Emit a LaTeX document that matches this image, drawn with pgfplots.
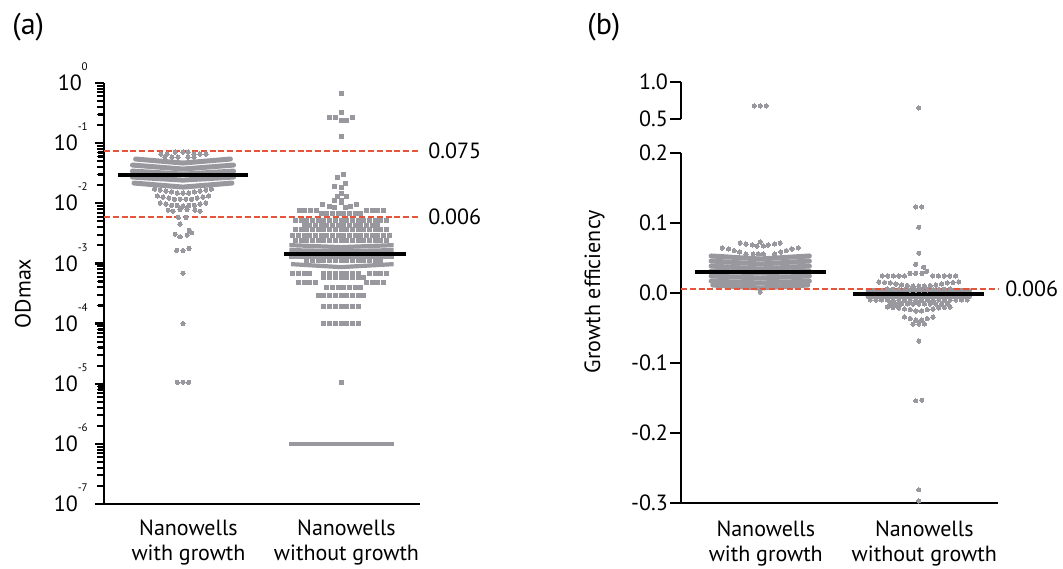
\documentclass[border=0pt]{standalone}
\usepackage{fontspec}
\setmainfont{PT Sans}
\usepackage{pgfplots}
\pgfplotsset{compat=1.18}
\definecolor{dotgray}{RGB}{152,152,158}
\definecolor{refred}{RGB}{232,84,58}
\newcommand{\ex}[1]{10\smash{\raisebox{10pt}{\fontsize{5.5}{5.5}\selectfont #1}}}
\pgfplotsset{
  swarm/.style={
    scale only axis, xmin=-0.5, xmax=1.5, clip=false,
    axis x line*=bottom, axis y line*=left,
    axis line style={line width=1pt},
    xtick={0,1}, xtick style={draw=none},
    ytick style={draw=black, line width=1pt},
    xticklabels={{Nanowells\\with growth},{Nanowells\\without growth}},
    xticklabel style={align=center, xshift=2.75pt,
      font=\fontsize{11}{12.5}\selectfont},
    tick label style={font=\fontsize{11}{12.5}\selectfont},
    label style={font=\fontsize{11}{12.5}\selectfont},
    tick align=outside,
  },
  dots/.style={only marks, mark=*, mark size=1.05pt, color=dotgray,
    mark options={line width=0pt}},
  sq/.style={only marks, mark=square*, mark size=1pt, color=dotgray,
    mark options={line width=0pt}},
  band/.style={no marks, dotgray, line width=2.5pt, line cap=round, line join=round},
  sqband/.style={no marks, dotgray, line width=2.1pt, line cap=butt},
  redline/.style={no marks, refred, line width=1pt, dash pattern=on 3pt off 1.4pt},
  meanline/.style={no marks, black, line width=2.1pt},
}
\begin{document}
\begin{tikzpicture}
\useasboundingbox (0,0) rectangle (531.5pt,284pt);
\node[anchor=base west, inner sep=0, font=\fontsize{15}{15}\selectfont] at (6pt,266.5pt) {(a)};
\node[anchor=base west, inner sep=0, font=\fontsize{15}{15}\selectfont] at (293.5pt,266.5pt) {(b)};

% ---------- panel (a): ODmax ----------
\begin{axis}[swarm,
  at={(52pt,32pt)}, anchor=south west,
  width=158pt, height=210.5pt,
  ymode=log, ymin=1e-7, ymax=1,
  ytick={1e-7,1e-6,1e-5,1e-4,1e-3,1e-2,1e-1,1},
  yticklabels={\ex{-7},\ex{-6},\ex{-5},\ex{-4},\ex{-3},\ex{-2},\ex{-1},\ex{0}},
  ytick style={draw=black, line width=1.1pt},
  extra y ticks={2e-7,3e-7,4e-7,5e-7,6e-7,7e-7,8e-7,9e-7,
    2e-6,3e-6,4e-6,5e-6,6e-6,7e-6,8e-6,9e-6,
    2e-5,3e-5,4e-5,5e-5,6e-5,7e-5,8e-5,9e-5,
    2e-4,3e-4,4e-4,5e-4,6e-4,7e-4,8e-4,9e-4,
    2e-3,3e-3,4e-3,5e-3,6e-3,7e-3,8e-3,9e-3,
    2e-2,3e-2,4e-2,5e-2,6e-2,7e-2,8e-2,9e-2,
    0.2,0.3,0.4,0.5,0.6,0.7,0.8,0.9},
  extra y tick labels={},
  extra y tick style={major tick length=3.3pt, ytick style={draw=black, line width=0.9pt}},
  major tick length=4.6pt,
  ylabel={ODmax},
  ylabel style={at={(axis description cs:-0.23,0.5)}, anchor=south, inner sep=0pt},
]
% nanowells with growth: dense bands
\addplot[band] coordinates {(-0.30,0.0544) (0,0.0467) (0.30,0.0544)};
\addplot[band] coordinates {(-0.32,0.0432) (0,0.0371) (0.32,0.0432)};
\addplot[band] coordinates {(-0.32,0.0343) (0,0.0306) (0.32,0.0343)};
\addplot[band] coordinates {(-0.32,0.0273) (0,0.0243) (0.32,0.0273)};
\addplot[band] coordinates {(-0.31,0.0217) (0,0.0186) (0.31,0.0217)};
% nanowells with growth: single wells
\addplot[dots] coordinates {
(-0.05,0.0711)(0,0.0711)(0.032,0.0711)
(-0.14,0.0659)(-0.1,0.0659)(0.07,0.0659)(0.107,0.0659)(0.145,0.0659)
(-0.115,0.0587)(-0.07,0.0587)(-0.032,0.0587)(0.032,0.0587)(0.07,0.0587)
(-0.18,0.0172)(-0.144,0.0166)(-0.108,0.016)(-0.072,0.0154)(-0.036,0.0148)(0,0.0148)
(0.036,0.0148)(0.072,0.0154)(0.108,0.016)(0.144,0.0166)(0.18,0.0172)
(-0.162,0.0132)(-0.126,0.0127)(-0.09,0.0122)(-0.054,0.0117)(-0.018,0.0117)
(0.018,0.0117)(0.054,0.0117)(0.09,0.0122)(0.126,0.0127)(0.162,0.0132)
(-0.144,0.0101)(-0.108,0.0097)(-0.072,0.0093)(-0.036,0.0092)(0,0.009)
(0.036,0.0092)(0.072,0.0093)(0.108,0.0097)(0.144,0.0101)
(-0.094,0.0077)(-0.063,0.0074)(-0.019,0.0079)(0.025,0.0079)(0.075,0.0077)(0.107,0.0074)
(-0.03,0.00583)(0.019,0.00583)
(-0.019,0.00451)
(0.04,0.00358)
(-0.05,0.00307)(-0.019,0.00277)(0.027,0.00296)(0.055,0.00323)
(-0.04,0.00166)(0,0.00163)(0.038,0.00178)
(0,0.00069)
(0,0.0001)
(-0.036,1.06e-5)(0,1.06e-5)(0.036,1.06e-5)
};
% nanowells without growth: dense bands
\addplot[sqband] coordinates {(0.673,0.002016) (1,0.001867) (1.333,0.002016)};
\addplot[sqband] coordinates {(0.673,0.001665) (1,0.001603) (1.333,0.001665)};
\addplot[sqband] coordinates {(0.673,0.001273) (1.333,0.001273)};
\addplot[sqband] coordinates {(0.684,0.000974) (1,0.000868) (1.333,0.000974)};
\addplot[sqband] coordinates {(0.673,1e-6) (1.333,1e-6)};
% nanowells without growth: single wells
\addplot[sq] coordinates {
(1,0.682)(1,0.329)
(0.925,0.272)(0.962,0.272)(1.07,0.272)
(1,0.242)(1.036,0.242)
(1,0.131)
(1.013,0.0306)(0.98,0.0273)
(1.03,0.0217)(0.956,0.0193)(1,0.0186)
(1.006,0.0148)(0.975,0.0132)(1.032,0.0132)(0.956,0.0113)(1,0.0113)
(0.88,0.0097)(0.925,0.009)(0.956,0.00865)(1,0.0105)(1.031,0.00865)(1.063,0.009)(1.1,0.0097)
(0.736,0.0077)(0.772,0.0077)(0.808,0.0077)(0.844,0.0077)
(1.162,0.0077)(1.198,0.0077)(1.234,0.0077)(1.27,0.0077)
(0.874,0.00687)(0.91,0.00687)(0.946,0.00687)(0.982,0.00687)
(1.018,0.00687)(1.054,0.00687)(1.09,0.00687)(1.126,0.00687)
(0.712,0.00525)(0.748,0.00525)(0.784,0.00525)(0.82,0.00525)(0.856,0.00525)(0.892,0.00525)
(0.928,0.00525)(0.964,0.00525)(1,0.00525)(1.036,0.00525)(1.072,0.00525)(1.108,0.00525)
(1.144,0.00525)(1.18,0.00525)(1.216,0.00525)(1.252,0.00525)(1.288,0.00525)
(0.766,0.00434)(0.802,0.00434)(0.838,0.00434)(0.874,0.00434)(0.91,0.00434)(0.946,0.00434)
(0.982,0.00434)(1.018,0.00434)(1.054,0.00434)(1.09,0.00434)(1.126,0.00434)(1.162,0.00434)
(1.198,0.00434)(1.234,0.00434)
(0.712,0.00372)(0.748,0.00372)(0.784,0.00372)(0.82,0.00372)(0.856,0.00372)(0.892,0.00372)
(0.928,0.00372)(0.964,0.00372)(1,0.00372)(1.036,0.00372)(1.072,0.00372)(1.108,0.00372)
(1.144,0.00372)(1.18,0.00372)(1.216,0.00372)(1.252,0.00372)(1.288,0.00372)
(0.694,0.00296)(0.73,0.00296)(0.766,0.00296)(0.802,0.00296)(0.838,0.00296)(0.874,0.00296)
(0.91,0.00296)(0.946,0.00296)(0.982,0.00296)(1.018,0.00296)(1.054,0.00296)(1.09,0.00296)
(1.126,0.00296)(1.162,0.00296)(1.198,0.00296)(1.234,0.00296)(1.27,0.00296)(1.306,0.00296)
(0.712,0.00244)(0.748,0.00244)(0.784,0.00244)(0.82,0.00244)(0.856,0.00244)(0.892,0.00244)
(0.928,0.00244)(0.964,0.00244)(1,0.00244)(1.036,0.00244)(1.072,0.00244)(1.108,0.00244)
(1.144,0.00244)(1.18,0.00244)(1.216,0.00244)(1.252,0.00244)(1.288,0.00244)
(0.784,0.001135)(0.82,0.001135)(0.856,0.001135)(0.892,0.001135)(0.928,0.001135)
(0.964,0.001135)(1,0.001135)(1.036,0.001135)(1.072,0.001135)(1.108,0.001135)
(1.144,0.001135)(1.18,0.001135)(1.216,0.001135)(1.252,0.001135)
(0.694,0.00069)(0.73,0.00069)(0.766,0.00069)(0.802,0.00069)
(0.892,0.00069)(0.928,0.00069)(0.964,0.00069)(1,0.00069)(1.036,0.00069)(1.072,0.00069)(1.108,0.00069)
(1.18,0.00069)(1.216,0.00069)(1.252,0.00069)(1.288,0.00069)
(0.892,0.000592)(0.928,0.000592)(0.964,0.000592)(1,0.000592)
(1.036,0.000592)(1.072,0.000592)(1.108,0.000592)(1.144,0.000592)
(0.73,0.000489)(0.766,0.000489)(0.802,0.000489)(0.838,0.000489)
(1.162,0.000489)(1.198,0.000489)(1.234,0.000489)(1.27,0.000489)
(0.91,0.000404)(0.946,0.000404)(0.982,0.000404)(1.018,0.000404)
(1.054,0.000404)(1.09,0.000404)(1.126,0.000404)
(0.856,0.000297)(0.892,0.000297)(0.928,0.000297)(0.964,0.000297)(1,0.000297)
(1.036,0.000297)(1.072,0.000297)(1.108,0.000297)(1.144,0.000297)
(0.892,0.000195)(0.928,0.000195)(0.964,0.000195)(1,0.000195)
(1.036,0.000195)(1.072,0.000195)(1.108,0.000195)
(0.892,0.0001)(0.928,0.0001)(0.964,0.0001)(1,0.0001)
(1.036,0.0001)(1.072,0.0001)(1.108,0.0001)
(1,1.06e-5)
};
% thresholds and means
\addplot[redline] coordinates {(-0.5,0.075) (1.5,0.075)};
\addplot[redline] coordinates {(-0.5,0.006) (1.5,0.006)};
\addplot[meanline] coordinates {(-0.41,0.0295) (0.41,0.0295)};
\addplot[meanline] coordinates {(0.64,0.00142) (1.41,0.00142)};
\node[anchor=west, inner sep=0, font=\fontsize{11}{12.5}\selectfont] at (axis cs:1.5,0.075) [xshift=4pt] {0.075};
\node[anchor=west, inner sep=0, font=\fontsize{11}{12.5}\selectfont] at (axis cs:1.5,0.006) [xshift=4pt] {0.006};
\end{axis}

% ---------- panel (b): growth efficiency, upper segment ----------
\begin{axis}[swarm,
  at={(340.5pt,224.5pt)}, anchor=south west,
  width=158.5pt, height=18.5pt,
  axis x line=none,
  ymin=0.5, ymax=1.0,
  ytick={0.5,1.0}, yticklabels={0.5,1.0},
  major tick length=5.4pt,
  yticklabel style={inner xsep=1pt},
]
\addplot[dots] coordinates {(-0.038,0.676)(0,0.676)(0.038,0.676)(1,0.649)};
\end{axis}

% ---------- panel (b): growth efficiency, lower segment ----------
\begin{axis}[swarm,
  at={(340.5pt,32.5pt)}, anchor=south west,
  width=158.5pt, height=175pt,
  ymin=-0.3, ymax=0.2,
  ytick={-0.3,-0.2,-0.1,0,0.1,0.2},
  yticklabels={-0.3,-0.2,-0.1,0.0,0.1,0.2},
  major tick length=5.4pt,
  yticklabel style={inner xsep=1pt},
  ylabel={Growth efficiency},
  ylabel style={at={(axis description cs:-0.24,0.604)}, anchor=south, inner sep=0pt},
]
% with growth: dense bands
\addplot[band] coordinates {(-0.31,0.0529) (0,0.0486) (0.31,0.0529)};
\addplot[band] coordinates {(-0.31,0.0457) (0,0.0414) (0.31,0.0457)};
\addplot[band] coordinates {(-0.31,0.0386) (0,0.0343) (0.31,0.0386)};
\addplot[band] coordinates {(-0.31,0.0314) (0,0.0286) (0.31,0.0314)};
\addplot[band] coordinates {(-0.31,0.0243) (0,0.0214) (0.31,0.0243)};
\addplot[band] coordinates {(-0.31,0.0171) (0,0.0143) (0.31,0.0171)};
\addplot[band] coordinates {(-0.30,0.0114) (0,0.0071) (0.30,0.0114)};
% with growth: single wells
\addplot[dots] coordinates {
(0,0.073)
(-0.126,0.0714)(-0.09,0.07)(-0.05,0.0686)(-0.02,0.0671)(0.02,0.0671)(0.05,0.0686)(0.09,0.07)(0.126,0.0714)
(-0.24,0.0643)(-0.2,0.0629)(-0.165,0.0607)(-0.13,0.0586)(-0.09,0.0557)
(0.09,0.0557)(0.13,0.0586)(0.165,0.0607)(0.2,0.0629)(0.24,0.0643)
(-0.045,0.0557)(-0.012,0.0557)(0.02,0.0557)
(0,0.0014)
};
% without growth: dense bands
\addplot[band] coordinates {(0.68,0.0029) (1.32,0.0029)};
\addplot[band] coordinates {(0.68,-0.0057) (1.32,-0.0057)};
% without growth: single wells
\addplot[dots] coordinates {
(0.981,0.123)(1.019,0.123)
(1,0.094)
(1,0.057)
(0.98,0.041)(1.03,0.037)(1.05,0.031)
(0.945,0.0279)(0.98,0.0279)(1.02,0.0279)
(0.77,0.0243)(0.805,0.0243)(0.84,0.0243)(0.875,0.0243)(0.91,0.0243)
(1.088,0.0243)(1.124,0.0243)(1.16,0.0243)(1.196,0.0243)(1.232,0.0243)
(0.748,0.0157)(0.784,0.015)(0.82,0.0143)(0.856,0.0129)(0.892,0.0114)(0.928,0.0107)(0.964,0.01)
(1,0.01)(1.036,0.01)(1.072,0.0107)(1.108,0.0114)(1.144,0.0129)(1.18,0.0143)(1.216,0.015)(1.252,0.0157)
(0.802,0.0057)(0.838,0.0054)(0.874,0.005)(0.91,0.0047)(0.946,0.0043)(0.982,0.0043)
(1.018,0.0043)(1.054,0.0043)(1.09,0.0047)(1.126,0.005)(1.162,0.0054)(1.198,0.0057)
(0.694,-0.01)(0.73,-0.01)(0.766,-0.01)(0.802,-0.01)(0.838,-0.01)(0.874,-0.01)
(0.91,-0.01)(0.946,-0.01)(0.982,-0.01)(1.018,-0.01)(1.054,-0.01)(1.09,-0.01)
(1.126,-0.01)(1.162,-0.01)(1.198,-0.01)(1.234,-0.01)(1.27,-0.01)(1.306,-0.01)
(0.82,-0.0157)(0.856,-0.0157)(0.892,-0.0157)(0.928,-0.0157)(0.964,-0.0157)(1,-0.0157)
(1.036,-0.0157)(1.072,-0.0157)(1.108,-0.0157)(1.144,-0.0157)(1.18,-0.0157)
(0.802,-0.02)(0.838,-0.0207)(0.874,-0.0214)(0.91,-0.0229)(0.946,-0.0236)(0.982,-0.0257)
(1.018,-0.0257)(1.054,-0.0236)(1.09,-0.0229)(1.126,-0.0214)(1.162,-0.0207)(1.198,-0.02)
(0.91,-0.0343)(0.946,-0.0364)(0.982,-0.0386)(1.018,-0.0386)(1.054,-0.0364)(1.09,-0.0343)
(0.964,-0.0443)(1,-0.0443)(1.036,-0.0443)
(1,-0.0686)
(0.981,-0.154)(1.019,-0.153)
(1,-0.281)(1,-0.297)
};
% threshold and means
\addplot[redline, line width=0.8pt] coordinates {(-0.5,0.006) (1.5,0.006)};
\addplot[meanline] coordinates {(-0.41,0.03) (0.415,0.03)};
\addplot[meanline] coordinates {(0.585,-0.0015) (1.41,-0.0015)};
\node[anchor=west, inner sep=0, font=\fontsize{11}{12.5}\selectfont] at (axis cs:1.5,0.006) [xshift=3.5pt] {0.006};
\end{axis}
\end{tikzpicture}
\end{document}
